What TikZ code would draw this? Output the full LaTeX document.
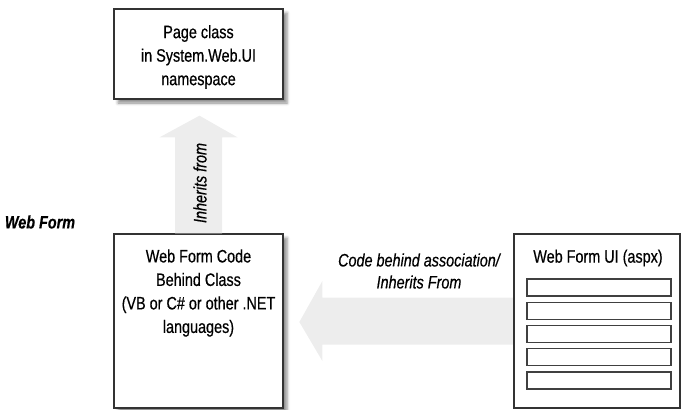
\documentclass[tikz,border=0pt]{standalone}
\usepackage{fontspec}
\setmainfont{Liberation Sans}[FakeStretch=0.8,FakeBold=0.5]
\usetikzlibrary{shadows.blur}
\begin{document}
\begin{tikzpicture}[x=1pt,y=-1pt,
  box/.style={draw=black!80, line width=1.3pt, fill=white, rectangle, inner sep=0pt,
    blur shadow={shadow xshift=4pt, shadow yshift=-4pt, shadow blur radius=3pt, shadow opacity=45}},
  plainbox/.style={draw=black!80, line width=1.3pt, fill=white, rectangle, inner sep=0pt},
  txt/.style={font=\fontsize{18}{23.5}\selectfont, align=center, text=black, inner sep=0pt},
  lbl/.style={font=\fontsize{18}{22}\selectfont\itshape, align=center, text=black, inner sep=0pt},
  rowbox/.style={draw=black!75, line width=1.2pt, fill=white, minimum width=144pt, minimum height=17pt, inner sep=0pt},
  blockarrow/.style={fill=black!7, draw=none}]
\useasboundingbox (0,0) rectangle (681,410);

% boxes
\path (198.5,54) node[box, minimum width=169pt, minimum height=90pt] (page) {};
\path (198.5,321) node[box, minimum width=169pt, minimum height=174pt] (code) {};

% vertical block arrow: code -> page
\fill[blockarrow] ([xshift=-23.5pt]code.north) -- ([xshift=-23.5pt,yshift=96pt]code.north)
  -- ([xshift=-39pt,yshift=96pt]code.north) -- ([xshift=1pt,yshift=-16pt]page.south)
  -- ([xshift=39pt,yshift=96pt]code.north) -- ([xshift=23.5pt,yshift=96pt]code.north)
  -- ([xshift=23.5pt]code.north) -- cycle;

% horizontal block arrow: ui -> code
\path (597,321) coordinate (uic);
\path (uic) node[plainbox, minimum width=166pt, minimum height=174pt, draw=none, fill=none] (ui) {};
\fill[blockarrow] ([yshift=23.5pt]ui.west) -- ([xshift=-191pt,yshift=23.5pt]ui.west)
  -- ([xshift=-191pt,yshift=40pt]ui.west) -- ([xshift=-214pt,yshift=-1pt]ui.west)
  -- ([xshift=-191pt,yshift=-40pt]ui.west) -- ([xshift=-191pt,yshift=-23.5pt]ui.west)
  -- ([yshift=-23.5pt]ui.west) -- cycle;
\path (uic) node[plainbox, minimum width=166pt, minimum height=174pt] (uibox) {};

% texts
\node[txt] (pagetxt) at (198.5,57) {Page class\\in System.Web.UI\\namespace};
\node[txt] (codetxt) at (198.5,293) {Web Form Code\\Behind Class\\(VB or C\# or other .NET\\languages)};
\node[txt] (uititle) at (598,258) {Web Form UI (aspx)};

\foreach \i in {1,...,5} {
  \node[rowbox] (r\i) at (599,{287.5+23.25*(\i-1)}) {};
}

\node[lbl, rotate=90] (inh) at (200,183) {Inherits from};
\node[lbl] (assoc) at (419,271) {Code behind association/\\Inherits From};
\node[lbl, font=\fontsize{18}{22}\selectfont\bfseries\itshape] (wf) at (40,222) {Web Form};
\end{tikzpicture}
\end{document}
